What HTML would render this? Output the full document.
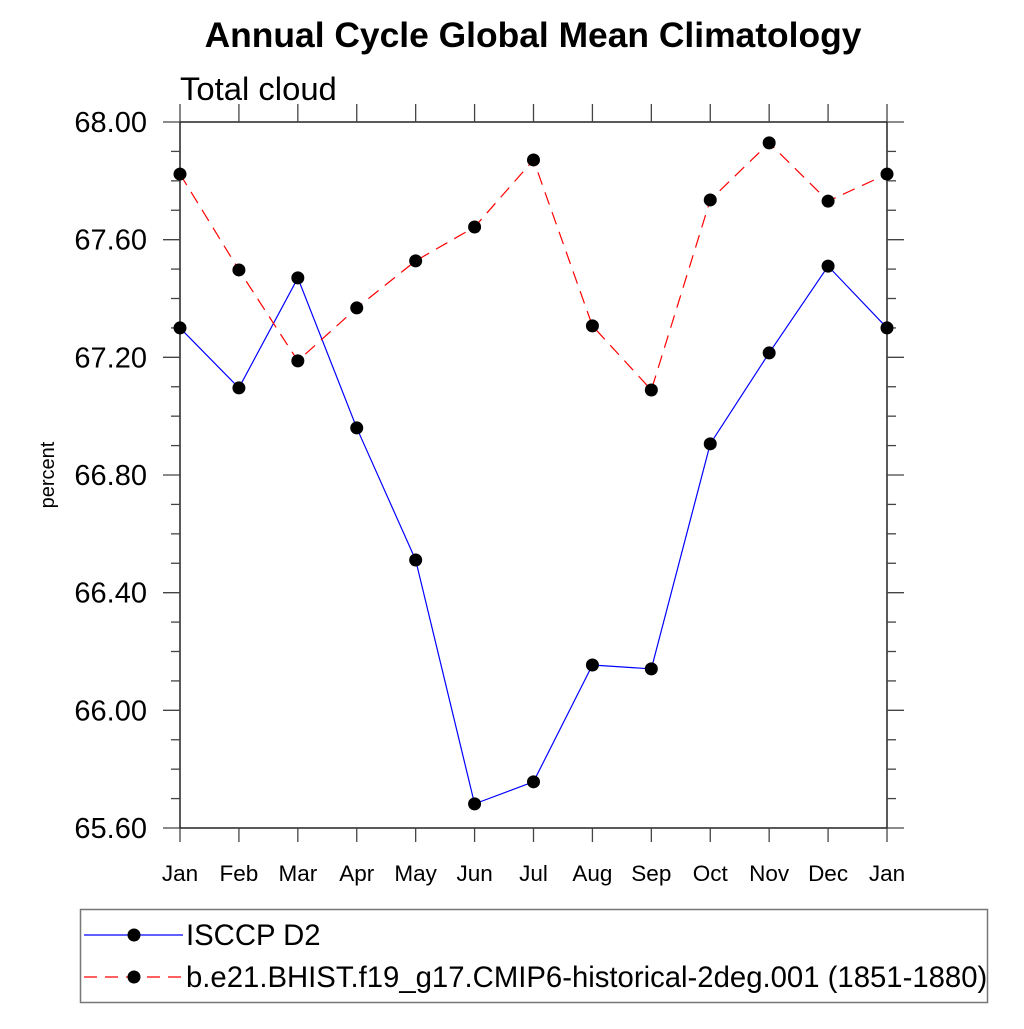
<!DOCTYPE html>
<html><head><meta charset="utf-8"><style>
body{margin:0;background:#fff}
svg text{font-family:"Liberation Sans",sans-serif}
</style></head><body>
<svg id="chart" width="1024" height="1024" viewBox="0 0 1024 1024" xmlns="http://www.w3.org/2000/svg">
<rect width="1024" height="1024" fill="#fff"/>
<text x="533" y="47" text-anchor="middle" font-size="35.4" font-weight="bold">Annual Cycle Global Mean Climatology</text>
<text x="180" y="100" font-size="32.8">Total cloud</text>
<text transform="translate(54,475) rotate(-90)" text-anchor="middle" font-size="20">percent</text>
<g id="axes"></g>
<g id="series"></g>
<g>
<rect x="80.5" y="909.5" width="907" height="93" fill="none" stroke="#777" stroke-width="1.5"/>
<line x1="84" y1="935" x2="183" y2="935" stroke="#0000ff" stroke-width="1.2"/>
<circle cx="134" cy="935" r="6.5" fill="#000"/>
<text x="186" y="945" font-size="29.3">ISCCP D2</text>
<line x1="84" y1="977" x2="183" y2="977" stroke="#ff0000" stroke-width="1.2" stroke-dasharray="13,8"/>
<circle cx="134" cy="977" r="6.5" fill="#000"/>
<text x="186" y="987" font-size="29.3">b.e21.BHIST.f19_g17.CMIP6-historical-2deg.001 (1851-1880)</text>
</g>
</svg>
<script>
const months = ["Jan","Feb","Mar","Apr","May","Jun","Jul","Aug","Sep","Oct","Nov","Dec","Jan"];
const isccp = [67.30,67.096,67.47,66.96,66.511,65.682,65.757,66.154,66.141,66.906,67.215,67.51,67.30];
const model = [67.823,67.497,67.188,67.368,67.528,67.643,67.871,67.307,67.089,67.735,67.929,67.731,67.823];
const yTicks = ["65.60","66.00","66.40","66.80","67.20","67.60","68.00"];
const NS="http://www.w3.org/2000/svg";
const X0=180,X1=887,Y0=828,Y1=122,YMIN=65.6,YMAX=68.0;
const xs=i=>X0+(X1-X0)*i/(months.length-1);
const ys=v=>Y0-(v-YMIN)/(YMAX-YMIN)*(Y0-Y1);
function mk(tag,attrs,parent){const e=document.createElementNS(NS,tag);for(const k in attrs)e.setAttribute(k,attrs[k]);parent.appendChild(e);return e;}
const ax=document.getElementById('axes');
const frame=mk('rect',{x:X0,y:Y1,width:X1-X0,height:Y0-Y1,fill:'none',stroke:'#000','stroke-width':1.3},ax);


months.forEach((m,i)=>{
  const x=xs(i);
  mk('line',{x1:x,y1:Y0,x2:x,y2:Y0+14,stroke:'#444','stroke-width':1.3},ax);
  mk('line',{x1:x,y1:Y1,x2:x,y2:Y1-18,stroke:'#444','stroke-width':1.3},ax);
  const t=mk('text',{x:x,y:881,'text-anchor':'middle','font-size':22.5},ax);
  t.textContent=m;
  
  
});
for(let k=0;k<=24;k++){
  const v=YMIN+k*0.1,y=ys(v),major=k%4===0,len=major?17:9;
  mk('line',{x1:X0-len,y1:y,x2:X0,y2:y,stroke:'#444','stroke-width':1.3},ax);
  mk('line',{x1:X1,y1:y,x2:X1+len,y2:y,stroke:'#444','stroke-width':1.3},ax);
}
yTicks.forEach(l=>{
  const t=mk('text',{x:147,y:ys(parseFloat(l))+10,'text-anchor':'end','font-size':29},ax);
  t.textContent=l;
  
  
});
const sg=document.getElementById('series');
function series(vals,color,dash,name){
  const p=mk('polyline',{points:vals.map((v,i)=>xs(i)+','+ys(v)).join(' '),fill:'none',stroke:color,'stroke-width':1.2,'stroke-dasharray':dash},sg);
  
  
  vals.forEach((v,i)=>{
    const c=mk('circle',{cx:xs(i),cy:ys(v),r:6.5,fill:'#000'},sg);
    
    
  });
}
series(isccp,'#0000ff','none','isccp');
series(model,'#ff0000','13,8','model');
</script>
</body></html>
